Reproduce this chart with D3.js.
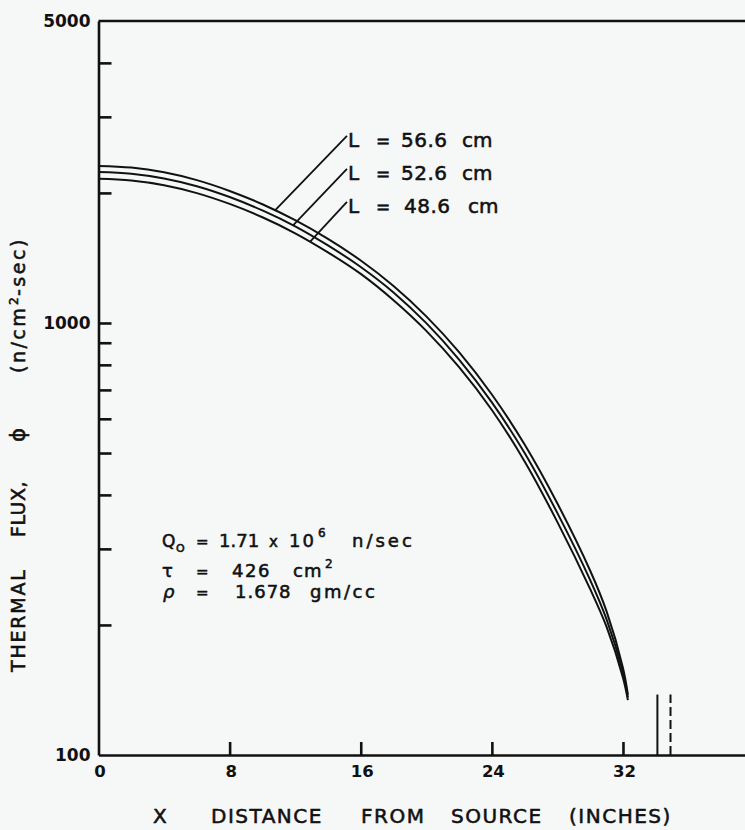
<!DOCTYPE html>
<html>
<head>
<meta charset="utf-8">
<script src="https://cdn.jsdelivr.net/npm/d3@7"></script>
<style>
  body { margin: 0; background: #f6f7f7; }
  svg { display: block; font-family: "DejaVu Sans", sans-serif; fill: #111; }
  text.lettering { stroke: #111; stroke-width: 0.55px; }
</style>
</head>
<body>
<div id="chart"></div>
<script>
// distance from source (inches) and thermal flux for the three lengths
const xInches = [0, 2, 4, 6, 8, 10, 12, 14, 16, 18, 20, 22, 24, 26, 28, 30, 31, 32, 32.3];
const flux566 = [2310, 2289, 2232, 2141, 2021, 1883, 1729, 1565, 1395, 1218, 1036, 856, 683, 523, 382, 267, 215, 159, 138];
const flux526 = [2237, 2216, 2161, 2073, 1957, 1822, 1674, 1512, 1348, 1177, 999, 823, 655, 500, 363, 254, 206, 155, 136];
const flux486 = [2156, 2136, 2083, 1998, 1886, 1757, 1613, 1457, 1299, 1129, 959, 790, 629, 478, 346, 242, 198, 151, 134];

const seriesNames = ["56.6", "52.6", "48.6"];
// where each leader line meets its curve (inches) and where its label sits
const leaderX = [10.77, 11.87, 12.9];
const labelX = 15.16;
const labelFlux = [2710, 2273, 1906];

const xTicks = [8, 16, 24, 32];
const xTickLabels = [0, 8, 16, 24, 32];
const yTicks = [200, 300, 400, 500, 600, 700, 800, 900, 1000, 2000, 3000, 4000];
const yTickLabels = [100, 1000, 5000];
const boundaryX = [34.1, 34.9];   // solid, dashed
const boundaryTop = 138;

var W = 745, H = 830;
var svg = d3.select("#chart").append("svg")
  .attr("width", W).attr("height", H);

var x = d3.scaleLinear().domain([0, 40]).range([98.5, 98.5 + 40 * 16.39]);
var y = d3.scaleLog().domain([100, 5000]).range([755, 21]);

var ink = "#111";

// y axis: ticks pointing into the plot
svg.append("g")
  .attr("transform", "translate(" + x(0) + ",0)")
  .call(d3.axisRight(y).tickValues(yTicks).tickSize(13).tickSizeOuter(0).tickFormat(""))
  .call(g => g.selectAll("path,line").attr("stroke", ink).attr("stroke-width", 2.6));

svg.append("g")
  .attr("transform", "translate(" + (x(0) - 1) + ",0)")
  .call(d3.axisLeft(y).tickValues(yTickLabels).tickSize(0).tickPadding(7).tickFormat(d3.format("d")))
  .call(g => g.select(".domain").remove())
  .call(g => g.selectAll("text").attr("font-size", 17).attr("font-weight", 700)
    .attr("fill", ink).attr("font-family", "DejaVu Sans, sans-serif"));

// x axis: ticks pointing up
svg.append("g")
  .attr("transform", "translate(0," + y(100) + ")")
  .call(d3.axisTop(x).tickValues(xTicks).tickSize(13).tickSizeOuter(0).tickFormat(""))
  .call(g => g.selectAll("path,line").attr("stroke", ink).attr("stroke-width", 2.6));

svg.append("g")
  .attr("transform", "translate(1," + y(100) + ")")
  .call(d3.axisBottom(x).tickValues(xTickLabels).tickSize(0).tickPadding(10))
  .call(g => g.select(".domain").remove())
  .call(g => g.selectAll("text").attr("font-size", 16.5).attr("font-weight", 700)
    .attr("fill", ink).attr("font-family", "DejaVu Sans, sans-serif"));

// top frame line
svg.append("line")
  .attr("x1", x(0)).attr("x2", x(40))
  .attr("y1", y(5000)).attr("y2", y(5000))
  .attr("stroke", ink).attr("stroke-width", 2.6);

// curves
var line = d3.line()
  .x(function(d) { return x(d[0]); })
  .y(function(d) { return y(d[1]); })
  .curve(d3.curveCatmullRom.alpha(0.5));

var allSeries = [flux566, flux526, flux486];
allSeries.forEach(function(vals) {
  svg.append("path")
    .datum(xInches.map(function(xi, i) { return [xi, vals[i]]; }))
    .attr("d", line)
    .attr("fill", "none")
    .attr("stroke", ink)
    .attr("stroke-width", 2);
});

function fluxAt(vals, xv) {
  var i = d3.bisectRight(xInches, xv) - 1;
  var t = (xv - xInches[i]) / (xInches[i + 1] - xInches[i]);
  return Math.pow(10, Math.log10(vals[i]) * (1 - t) + Math.log10(vals[i + 1]) * t);
}

// one piece of lettering
function word(str, px, py, size, spacing) {
  return svg.append("text").attr("class", "lettering")
    .attr("x", px).attr("y", py).attr("font-size", size)
    .attr("letter-spacing", spacing || 0).text(str);
}

// leader lines + labels
seriesNames.forEach(function(name, i) {
  var vals = allSeries[i];
  svg.append("line")
    .attr("x1", x(leaderX[i])).attr("y1", y(fluxAt(vals, leaderX[i])))
    .attr("x2", x(labelX)).attr("y2", y(labelFlux[i]))
    .attr("stroke", ink).attr("stroke-width", 1.8);

  var x0 = x(labelX), y0 = y(labelFlux[i]) + 11;
  word("L", x0 + 1, y0, 20);
  word("=", x0 + 29, y0, 17);
  word(name, x0 + (i === 2 ? 57 : 54), y0, 20, 0.5);
  word("cm", x0 + (i === 2 ? 121 : 115), y0, 20);
});

// boundary markers
svg.append("line")
  .attr("x1", x(boundaryX[0])).attr("x2", x(boundaryX[0]))
  .attr("y1", y(100)).attr("y2", y(boundaryTop))
  .attr("stroke", ink).attr("stroke-width", 2);
svg.append("line")
  .attr("x1", x(boundaryX[1])).attr("x2", x(boundaryX[1]))
  .attr("y1", y(100)).attr("y2", y(boundaryTop))
  .attr("stroke", ink).attr("stroke-width", 2)
  .attr("stroke-dasharray", "9,4");

// parameter block
var fs = 18;
word("Q", 162, 547, 17);
word("O", 176, 552, 11);
word("=", 196, 547, 15);
word("1.71", 219, 547, fs);
word("x", 269, 547, 15);
word("10", 289, 547, fs, 2);
word("6", 318, 537, 12);
word("n/sec", 352, 547, fs, 3);

word("τ", 162, 577, fs);
word("=", 196, 577, 15);
word("426", 232, 577, fs, 1.5);
word("cm", 293, 577, fs, 1);
word("2", 325, 568, 12);

word("ρ", 163, 598, fs).attr("font-style", "italic");
word("=", 196, 598, 15);
word("1.678", 235, 598, fs, 1);
word("gm/cc", 310, 598, fs, 2.5);

// x axis title
[["X", 153], ["DISTANCE", 211], ["FROM", 361], ["SOURCE", 451], ["(INCHES)", 569]]
  .forEach(function(w) { word(w[0], w[1], 823, 20, 1.5); });

// y axis title (rotated; negative y is "up" for the text)
var yg = svg.append("g").attr("transform", "translate(25,0) rotate(-90)");
function yword(str, start, size, spacing, raise) {
  return yg.append("text").attr("class", "lettering")
    .attr("x", -start).attr("y", -(raise || 0)).attr("font-size", size)
    .attr("letter-spacing", spacing || 0).text(str);
}
yword("THERMAL", 672, 19, 1.8);
yword("FLUX,", 537, 19, 0.5);
yword("ϕ", 442, 21);
yword("(n/cm", 373, 19, 2.5);
yword("2", 305, 12, 0, 7);
yword("-sec)", 296, 19, 2.5);
</script>
</body>
</html>
